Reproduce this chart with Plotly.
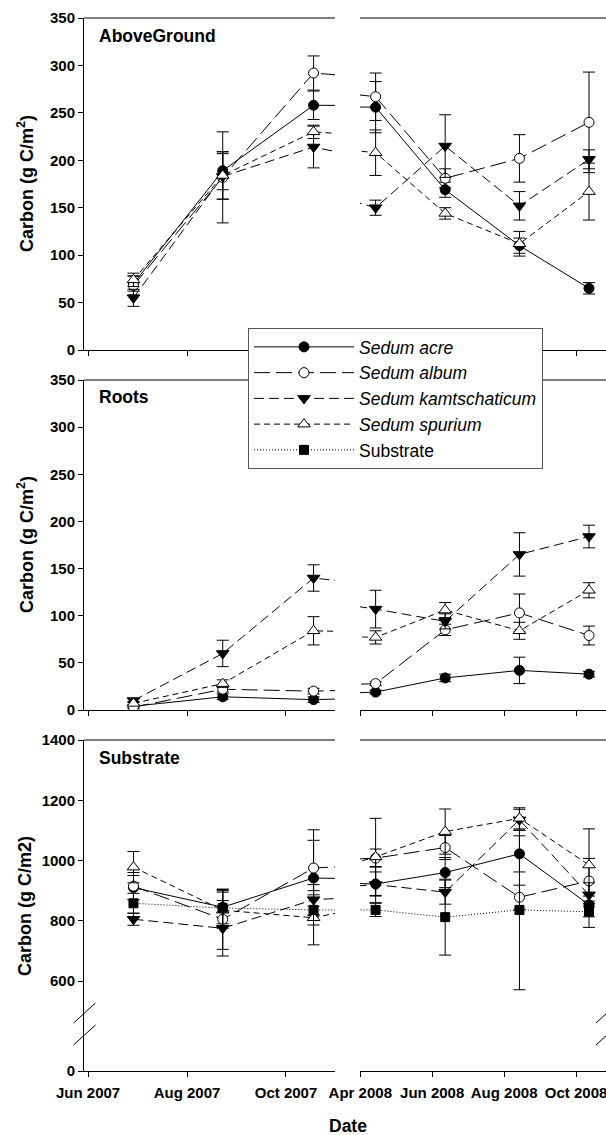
import plotly.graph_objects as go

W, H = 606, 1135

# ---------------- data ----------------
dates = ['2007-06-29', '2007-08-23', '2007-10-18',
         '2008-04-14', '2008-06-12', '2008-08-14', '2008-10-12']

names = ['<i>Sedum acre</i>', '<i>Sedum album</i>', '<i>Sedum kamtschaticum</i>',
         '<i>Sedum spurium</i>', 'Substrate']

# AboveGround (g C/m2)
above_acre = [70, 189, 258, 256, 169, 110, 65]
above_acre_se = [8, 20, 15, 27, 8, 8, 6]
above_album = [68, 182, 292, 267, 181, 202, 240]
above_album_se = [10, 48, 18, 25, 10, 25, 53]
above_kamt = [55, 183, 214, 150, 215, 152, 201]
above_kamt_se = [9, 24, 22, 8, 33, 15, 10]
above_spur = [74, 184, 230, 208, 144, 112, 167]
above_spur_se = [7, 25, 7, 24, 6, 13, 30]

# Roots (g C/m2)
roots_acre = [4, 14, 11, 19, 34, 42, 38]
roots_acre_se = [1.5, 3, 3, 2, 4, 14, 3]
roots_album = [3, 22, 20, 28, 85, 103, 79]
roots_album_se = [1.5, 3, 3, 2, 6, 20, 10]
roots_kamt = [10, 60, 140, 107, 94, 165, 184]
roots_kamt_se = [2, 14, 14, 20, 8, 23, 12]
roots_spur = [7, 28, 84, 77, 106, 84, 127]
roots_spur_se = [2, 4, 15, 7, 8, 9, 8]

# Substrate (g C/m2)
sub_acre = [910, 845, 942, 922, 960, 1022, 853]
sub_acre_se = [40, 55, 125, 40, 50, 60, 40]
sub_album = [915, 805, 975, 1008, 1043, 878, 932]
sub_album_se = [45, 100, 127, 30, 40, 40, 75]
sub_kamt = [805, 775, 870, 920, 895, 1135, 886]
sub_kamt_se = [20, 92, 50, 60, 40, 35, 40]
sub_spur = [978, 835, 810, 1012, 1096, 1140, 985]
sub_spur_se = [52, 60, 90, 128, 75, 35, 120]
sub_substrate = [858, 842, 836, 836, 812, 836, 830]
sub_substrate_se = [33, 62, 50, 22, 126, 265, 52]

left_ticks = ['2007-06-01', '2007-08-01', '2007-10-01']
left_ticklabels = ['Jun 2007', 'Aug 2007', 'Oct 2007']
right_ticks = ['2008-04-01', '2008-06-01', '2008-08-01', '2008-10-01']
right_ticklabels = ['Apr 2008', 'Jun 2008', 'Aug 2008', 'Oct 2008']

panel_titles = ['AboveGround', 'Roots', 'Substrate']
y_titles = ['Carbon (g C/m<sup>2</sup>)', 'Carbon (g C/m<sup>2</sup>)', 'Carbon (g C/m2)']

# ---------------- styles ----------------
styles = [
    dict(symbol='circle', size=10, color='black', dash='solid'),
    dict(symbol='circle', size=10, color='white', dash='16px,6px'),
    dict(symbol='triangle-down', size=11, color='black', dash='10px,5px'),
    dict(symbol='triangle-up', size=11, color='white', dash='6px,4px'),
    dict(symbol='square', size=9, color='black', dash='1px,2px'),
]

panels = [
    ([above_acre, above_album, above_kamt, above_spur, None],
     [above_acre_se, above_album_se, above_kamt_se, above_spur_se, None], ('x', 'x2'), 'y'),
    ([roots_acre, roots_album, roots_kamt, roots_spur, None],
     [roots_acre_se, roots_album_se, roots_kamt_se, roots_spur_se, None], ('x3', 'x4'), 'y2'),
    ([sub_acre, sub_album, sub_kamt, sub_spur, sub_substrate],
     [sub_acre_se, sub_album_se, sub_kamt_se, sub_spur_se, sub_substrate_se], ('x5', 'x6'), 'y3'),
]

FONT = 'Arial, Liberation Sans, sans-serif'

fig = go.Figure()

for si, name in enumerate(names):
    st = styles[si]
    first = True
    for vals, errs, xaxes, yax in panels:
        v = vals[si]
        if v is None:
            continue
        for xa in xaxes:
            fig.add_trace(go.Scatter(
                x=dates, y=v, xaxis=xa, yaxis=yax,
                mode='lines+markers', name=name, legendgroup=name,
                showlegend=first,
                line=dict(color='black', width=1, dash=st['dash']),
                marker=dict(symbol=st['symbol'], size=st['size'], color=st['color'],
                            line=dict(color='black', width=1)),
                error_y=dict(type='data', array=errs[si], color='black',
                             thickness=1, width=6),
            ))
            first = False

# empty traces so the lower (broken) y-axis of the substrate panel exists
for xa in ('x5', 'x6'):
    fig.add_trace(go.Scatter(x=[], y=[], xaxis=xa, yaxis='y4', showlegend=False,
                             hoverinfo='skip', mode='markers'))

# ---------------- layout geometry (px) ----------------
def px_x(p):
    return p / W

def px_y(p):
    return 1 - p / H

xl = [px_x(84), px_x(335)]
xr = [px_x(360), 1.0]

xtickfont = dict(family=FONT, size=15, color='black', weight='bold')
ytickfont = dict(family=FONT, size=15, color='black', weight='bold')

def xaxis(rng, ticks, labels, anchor, showlabels, dom):
    return dict(type='date', domain=dom, range=rng, tickvals=ticks, ticktext=labels,
                ticks='outside', ticklen=5, tickcolor='black', showticklabels=showlabels,
                showline=True, linecolor='black', linewidth=1, showgrid=False,
                zeroline=False, anchor=anchor, tickfont=xtickfont, fixedrange=True,
                automargin=False, ticklabelstandoff=3, tickangle=0,
                ticklabeloverflow='allow')

left_range = ['2007-05-29 12:00', '2007-10-31 05:00']
right_range = ['2008-03-31 18:00', '2008-10-26 10:00']

layout = dict(
    width=W, height=H, margin=dict(l=0, r=0, t=0, b=0, pad=0, autoexpand=False),
    paper_bgcolor='white', plot_bgcolor='white',
    font=dict(family=FONT, color='black'),
)

for xa, xb, ya, show in [('xaxis', 'xaxis2', 'y', False),
                         ('xaxis3', 'xaxis4', 'y2', False),
                         ('xaxis5', 'xaxis6', 'y4', True)]:
    layout[xa] = xaxis(left_range, left_ticks, left_ticklabels, ya, show, xl)
    layout[xb] = xaxis(right_range, right_ticks, right_ticklabels, ya, show, xr)

def yaxis(rng, dom, anchor, tickvals):
    return dict(range=rng, domain=dom, anchor=anchor, tickvals=tickvals,
                ticks='outside', ticklen=5, tickcolor='black', showline=True,
                linecolor='black', linewidth=1, showgrid=False, zeroline=False,
                tickfont=ytickfont, fixedrange=True, automargin=False)

layout['yaxis'] = yaxis([0, 350], [px_y(350), px_y(18)], 'x', list(range(0, 351, 50)))
layout['yaxis2'] = yaxis([0, 350], [px_y(710), px_y(380)], 'x3', list(range(0, 351, 50)))
scale3 = (981 - 740) / 800.0
layout['yaxis3'] = yaxis([1400 - (1022 - 740) / scale3, 1400], [px_y(1022), px_y(740)], 'x5',
                         [600, 800, 1000, 1200, 1400])
layout['yaxis4'] = yaxis([0, (1071 - 1022) / scale3], [px_y(1071), px_y(1022)], 'x5', [0])

layout['legend'] = dict(
    x=px_x(248), y=px_y(328), xanchor='left', yanchor='top',
    bgcolor='white', bordercolor='#555555', borderwidth=1,
    font=dict(family=FONT, size=17.5, color='black'),
    itemwidth=100, tracegroupgap=0, traceorder='normal',
)

shapes = []
for top in (18, 380, 740):
    for seg in (xl, xr):
        shapes.append(dict(type='line', xref='paper', yref='paper',
                           x0=seg[0], x1=seg[1], y0=px_y(top), y1=px_y(top),
                           line=dict(color='black', width=1)))
for cx in (84.5, 607):
    for cy in (1013, 1035):
        shapes.append(dict(type='line', xref='paper', yref='paper',
                           x0=px_x(cx - 11), x1=px_x(cx + 11),
                           y0=px_y(cy + 10), y1=px_y(cy - 10),
                           line=dict(color='black', width=1)))
layout['shapes'] = shapes

annotations = []
for t, yc in zip(panel_titles, (36, 397, 758)):
    annotations.append(dict(text='<b>%s</b>' % t, xref='paper', yref='paper',
                            x=px_x(97), y=px_y(yc), xanchor='left', yanchor='middle',
                            showarrow=False, font=dict(family=FONT, size=17.5, color='black')))
for t, yc in zip(y_titles, (184, 545, 906)):
    annotations.append(dict(text='<b>%s</b>' % t, xref='paper', yref='paper',
                            x=px_x(25), y=px_y(yc), xanchor='center', yanchor='middle',
                            textangle=-90, showarrow=False,
                            font=dict(family=FONT, size=18, color='black')))
annotations.append(dict(text='<b>Date</b>', xref='paper', yref='paper',
                        x=px_x(348), y=px_y(1126), xanchor='center', yanchor='middle',
                        showarrow=False, font=dict(family=FONT, size=17.5, color='black')))
layout['annotations'] = annotations

fig.update_layout(**layout)
fig.write_html('out.html')
